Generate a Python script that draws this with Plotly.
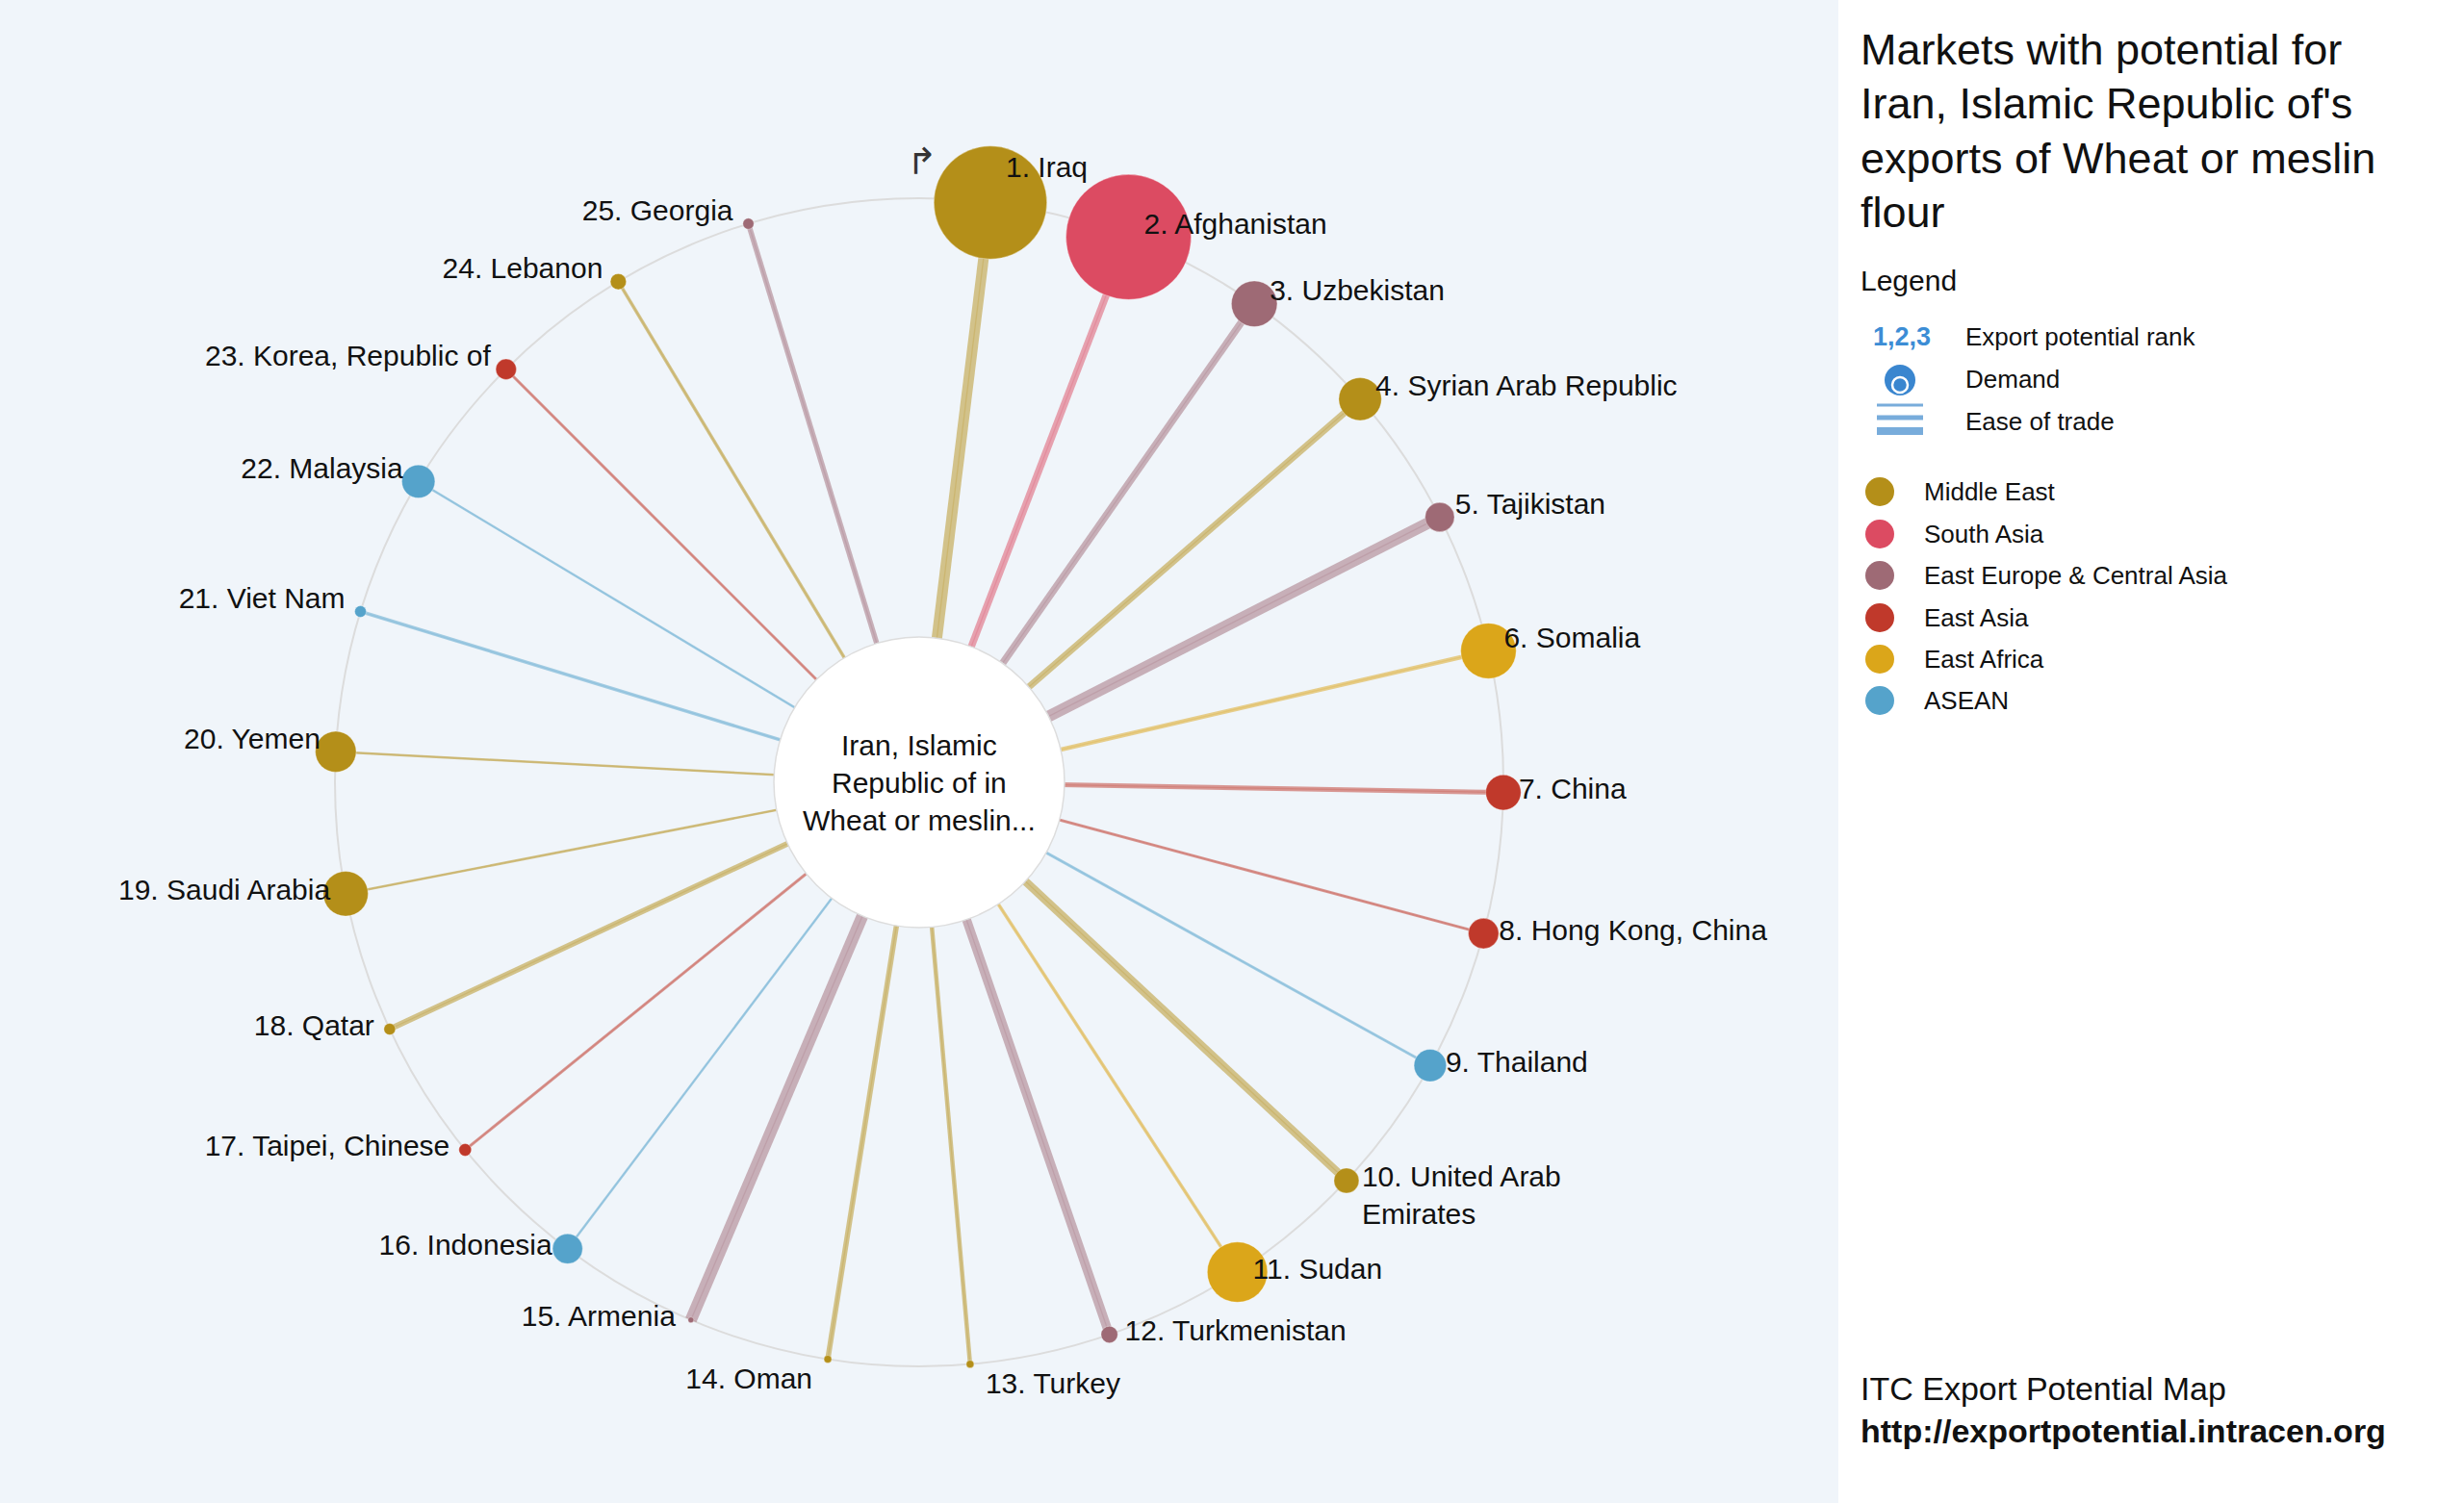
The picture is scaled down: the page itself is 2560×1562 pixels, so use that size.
import numpy as np
import plotly.graph_objects as go

# ---------------- data ----------------
countries = ["Iraq", "Afghanistan", "Uzbekistan", "Syrian Arab Republic", "Tajikistan",
             "Somalia", "China", "Hong Kong, China", "Thailand", "United Arab<br>Emirates",
             "Sudan", "Turkmenistan", "Turkey", "Oman", "Armenia", "Indonesia",
             "Taipei, Chinese", "Qatar", "Saudi Arabia", "Yemen", "Viet Nam", "Malaysia",
             "Korea, Republic of", "Lebanon", "Georgia"]
ranks = list(range(1, 26))
regions = ["Middle East", "South Asia", "East Europe & Central Asia", "Middle East",
           "East Europe & Central Asia", "East Africa", "East Asia", "East Asia", "ASEAN",
           "Middle East", "East Africa", "East Europe & Central Asia", "Middle East",
           "Middle East", "East Europe & Central Asia", "ASEAN", "East Asia", "Middle East",
           "Middle East", "Middle East", "ASEAN", "ASEAN", "East Asia", "Middle East",
           "East Europe & Central Asia"]
# relative demand (bubble size index) and ease of trade (link thickness index)
demand = [58.7, 65.0, 23.8, 22.2, 15.2, 28.8, 18.3, 15.8, 16.8, 13.0, 31.3, 8.7, 4.0,
          4.0, 3.0, 15.6, 6.5, 6.0, 23.3, 21.2, 6.0, 17.2, 10.7, 8.3, 5.7]
ease = [11.0, 7.5, 7.5, 7.0, 12.0, 4.5, 5.0, 3.0, 3.0, 8.5, 3.5, 9.5, 4.5, 5.5, 12.3,
        2.5, 3.0, 6.0, 2.5, 2.5, 3.5, 2.5, 3.0, 3.5, 5.5]
region_order = ["Middle East", "South Asia", "East Europe & Central Asia", "East Asia",
                "East Africa", "ASEAN"]
title_lines = ["Markets with potential for", "Iran, Islamic Republic of's",
               "exports of Wheat or meslin", "flour"]
center_label = "Iran, Islamic<br>Republic of in<br>Wheat or meslin..."
legend_items = ["Export potential rank", "Demand", "Ease of trade"]

# ---------------- styles ----------------
region_colors = {"Middle East": "#B48F19", "South Asia": "#DC4B62",
                 "East Europe & Central Asia": "#9E6A75", "East Asia": "#C0392B",
                 "East Africa": "#DBA61A", "ASEAN": "#55A3CB"}
FONT = "Liberation Sans, Arial, Helvetica, sans-serif"
W, H = 2560, 1562
CX, CY = 955, 813          # chart centre in px (from top-left)
RING_PX = 607              # px per radial unit (ring radius)
RMAX = 1.2
INNER_PX = 151
START, STEP = 7.0, 14.0    # angular layout of ranks (degrees)


def rgba(hexc, a):
    h = hexc.lstrip('#')
    return f"rgba({int(h[0:2],16)},{int(h[2:4],16)},{int(h[4:6],16)},{a})"


def px(x):
    return x / W


def py(y):
    return 1 - y / H


theta = [START + STEP * (k - 1) for k in ranks]
colors = [region_colors[r] for r in regions]

fig = go.Figure()

# spokes
for k in range(len(ranks)):
    fig.add_trace(go.Scatterpolar(r=[0, 1], theta=[theta[k], theta[k]], mode="lines",
                                  line=dict(color=rgba(colors[k], 0.5), width=ease[k]),
                                  hoverinfo="skip", showlegend=False, cliponaxis=False))
    fig.add_trace(go.Scatterpolar(r=[0, 1], theta=[theta[k], theta[k]], mode="lines",
                                  line=dict(color=rgba(colors[k], 0.22), width=1.3),
                                  hoverinfo="skip", showlegend=False, cliponaxis=False))

# bubbles
fig.add_trace(go.Scatterpolar(
    r=[1] * len(ranks), theta=theta, mode="markers",
    marker=dict(size=demand, sizemode="diameter", sizeref=0.5, color=colors, opacity=1,
                line=dict(color="rgba(255,255,255,0.35)", width=1)),
    text=countries, hoverinfo="text", showlegend=False, cliponaxis=False))

# labels: node position + pixel offset
lab_r, lab_t, lab_pos, lab_txt = [], [], [], []
for k in range(len(ranks)):
    th = theta[k]
    right = th < 180
    if th < 10:
        dyc = -37
    elif th < 90 or th > 270:
        dyc = -14
    elif abs(th - 180) < 15:
        dyc = 20
    else:
        dyc = -4
    nlines = countries[k].count("<br>") + 1
    dy = dyc + 3 + (nlines - 1) * 19.5
    dx = 16 if right else -16
    x = np.sin(np.radians(th)) + dx / RING_PX
    y = np.cos(np.radians(th)) - dy / RING_PX
    lab_r.append(float(np.hypot(x, y)))
    lab_t.append(float(np.degrees(np.arctan2(x, y)) % 360))
    lab_pos.append("middle right" if right else "middle left")
    lab_txt.append(f"{ranks[k]}. {countries[k]}")

fig.add_trace(go.Scatterpolar(r=lab_r, theta=lab_t, mode="text", text=lab_txt,
                              textposition=lab_pos,
                              textfont=dict(family=FONT, size=30, color="#111111"),
                              hoverinfo="skip", showlegend=False, cliponaxis=False))

rad = RMAX * RING_PX
fig.update_layout(
    width=W, height=H, margin=dict(l=0, r=0, t=0, b=0),
    paper_bgcolor="#F0F5FA", plot_bgcolor="#F0F5FA", showlegend=False,
    polar=dict(
        domain=dict(x=[px(CX - rad), px(CX + rad)], y=[py(CY + rad), py(CY - rad)]),
        bgcolor="rgba(0,0,0,0)",
        radialaxis=dict(range=[0, RMAX], tickvals=[1], showticklabels=False, ticks="",
                        showline=False, gridcolor="#DCDCDC", gridwidth=2),
        angularaxis=dict(rotation=90, direction="clockwise", showgrid=False,
                         showline=False, showticklabels=False, ticks=""),
    ),
)

shapes = []
# right panel
shapes.append(dict(type="rect", xref="paper", yref="paper", x0=px(1910), x1=1, y0=0, y1=1,
                   fillcolor="white", line=dict(width=0), layer="below"))
# centre disk
shapes.append(dict(type="circle", xref="paper", yref="paper",
                   x0=px(CX - INNER_PX), x1=px(CX + INNER_PX),
                   y0=py(CY + INNER_PX), y1=py(CY - INNER_PX),
                   fillcolor="white", line=dict(color="#DDDDDD", width=1.5), layer="above"))
# legend: region circles
LEG_Y = [511, 555, 598, 642, 685, 728]
for i, reg in enumerate(region_order):
    cx, cy, r = 1953, LEG_Y[i], 15
    shapes.append(dict(type="circle", xref="paper", yref="paper",
                       x0=px(cx - r), x1=px(cx + r), y0=py(cy + r), y1=py(cy - r),
                       fillcolor=region_colors[reg], line=dict(width=0), layer="below"))
# demand icon
shapes.append(dict(type="circle", xref="paper", yref="paper",
                   x0=px(1974 - 16), x1=px(1974 + 16), y0=py(395 + 16), y1=py(395 - 16),
                   fillcolor="#3A86CF", line=dict(width=0), layer="below"))
shapes.append(dict(type="circle", xref="paper", yref="paper",
                   x0=px(1974 - 8), x1=px(1974 + 8), y0=py(400 + 8), y1=py(400 - 8),
                   fillcolor="#3A86CF", line=dict(color="white", width=2.5), layer="below"))
# ease of trade icon
for yy, lw in [(421, 3), (434, 5), (448, 8)]:
    shapes.append(dict(type="line", xref="paper", yref="paper", x0=px(1950), x1=px(1998),
                       y0=py(yy), y1=py(yy), line=dict(color="#78ACDB", width=lw),
                       layer="below"))
fig.update_layout(shapes=shapes)

ann = []
# centre text
ann.append(dict(x=px(CX), y=py(CY), xref="paper", yref="paper", text=center_label,
                showarrow=False, xanchor="center", yanchor="middle",
                font=dict(family=FONT, size=30, color="#111111")))
# start arrow
ann.append(dict(x=px(958), y=py(168), xref="paper", yref="paper", text="↱",
                showarrow=False, xanchor="center", yanchor="middle",
                font=dict(family="DejaVu Sans", size=38, color="#333333")))
# title
for i, t in enumerate(title_lines):
    ann.append(dict(x=px(1931), y=py(52 + 56 * i), xref="paper", yref="paper", text=t,
                    showarrow=False, xanchor="left", yanchor="middle",
                    font=dict(family=FONT, size=45, color="#111111")))
ann.append(dict(x=px(1931), y=py(291), xref="paper", yref="paper", text="Legend",
                showarrow=False, xanchor="left", yanchor="middle",
                font=dict(family=FONT, size=30, color="#111111")))
ann.append(dict(x=px(1944), y=py(350), xref="paper", yref="paper", text="<b>1,2,3</b>",
                showarrow=False, xanchor="left", yanchor="middle",
                font=dict(family=FONT, size=27, color="#3C8DD5")))
for i, t in enumerate(legend_items):
    ann.append(dict(x=px(2040), y=py(350 + 44 * i), xref="paper", yref="paper", text=t,
                    showarrow=False, xanchor="left", yanchor="middle",
                    font=dict(family=FONT, size=26, color="#111111")))
for i, reg in enumerate(region_order):
    ann.append(dict(x=px(1997), y=py(LEG_Y[i]), xref="paper", yref="paper", text=reg,
                    showarrow=False, xanchor="left", yanchor="middle",
                    font=dict(family=FONT, size=26, color="#111111")))
# footer
ann.append(dict(x=px(1931), y=py(1443), xref="paper", yref="paper",
                text="ITC Export Potential Map", showarrow=False, xanchor="left",
                yanchor="middle", font=dict(family=FONT, size=34, color="#111111")))
ann.append(dict(x=px(1931), y=py(1487), xref="paper", yref="paper",
                text="<b>http://exportpotential.intracen.org</b>", showarrow=False,
                xanchor="left", yanchor="middle",
                font=dict(family=FONT, size=34, color="#111111")))
fig.update_layout(annotations=ann)

fig.write_html("out.html", config={"displayModeBar": False},
               post_script="document.body.style.margin='0px';"
                           "document.body.style.padding='0px';"
                           "document.body.style.overflow='hidden';")
